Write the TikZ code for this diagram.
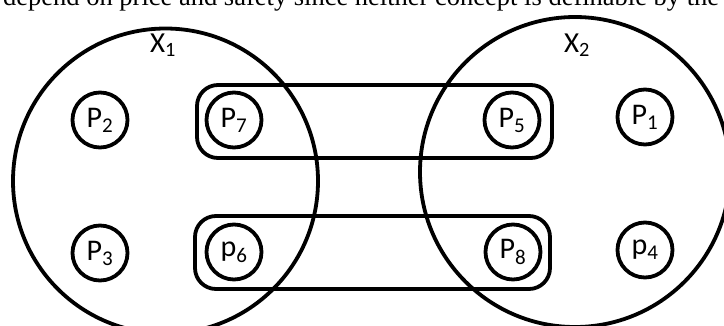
\documentclass[tikz,border=0pt]{standalone}
\usepackage{fontspec}
\setmainfont{Carlito}
\newfontfamily\bodyserif{Liberation Serif}
\usepackage{tikz}
\usetikzlibrary{positioning}

\tikzset{
  setring/.style={line width=3.8pt},
  ptcircle/.style={circle,draw,line width=3.8pt,minimum size=55pt,inner sep=0pt,
    font=\fontsize{30}{34}\selectfont},
  pairbox/.style={line width=3.8pt,rounded corners=21pt},
  setlabel/.style={font=\fontsize{29}{33}\selectfont}
}

\begin{document}
\begin{tikzpicture}[x=1pt,y=-1pt]
    \useasboundingbox (0,0) rectangle (724,325);
    \clip (0,0) rectangle (724,325);

    % cut-off line of the running text above the figure
    \node[anchor=base west,inner sep=0pt,font=\bodyserif\fontsize{26.5}{30}\selectfont] (body) at (3,5)
      {depend on price and safety since neither concept is definable by the};

    % the two sets
    \draw[setring] (165.5,181) circle[radius=152.5pt];
    \draw[setring] (575,172) circle[radius=155pt];
    \node[setlabel] (x1) at (163,45) {X\textsubscript{1}};
    \node[setlabel] (x2) at (577,45) {X\textsubscript{2}};

    % elements
    \node[ptcircle] (p2) at (100,120) {P\textsubscript{2}};
    \node[ptcircle] (p7) at (234,120) {P\textsubscript{7}};
    \node[ptcircle] (p5) at (512,120) {P\textsubscript{5}};
    \node[ptcircle] (p1) at (645,117) {P\textsubscript{1}};
    \node[ptcircle] (p3) at (100,253) {P\textsubscript{3}};
    \node[ptcircle] (p6) at (234,252) {p\textsubscript{6}};
    \node[ptcircle] (p8) at (513,252) {P\textsubscript{8}};
    \node[ptcircle] (p4) at (645,250) {p\textsubscript{4}};

    % pairs across the sets
    \draw[pairbox] (197,85) rectangle (552,158);
    \draw[pairbox] (195,216) rectangle (550,289);
\end{tikzpicture}
\end{document}
